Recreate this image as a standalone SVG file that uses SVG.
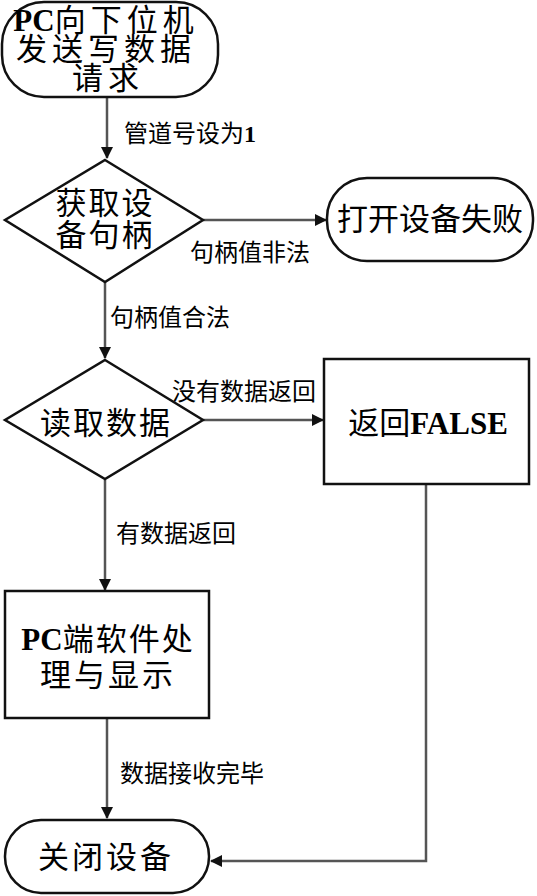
<svg xmlns="http://www.w3.org/2000/svg" width="537" height="896" viewBox="0 0 537 896">
<style>
.shape{fill:#fff;stroke:#111;stroke-width:2.5}
.conn{fill:none;stroke:#555;stroke-width:2.5}
.nt{font-family:"Liberation Serif","Noto Sans CJK SC",serif;font-size:31px;fill:#000;text-anchor:middle}
.b{font-weight:bold}
.el{font-family:"Noto Sans CJK SC","Liberation Sans",sans-serif;font-size:24px;fill:#000}
</style>
<defs>
<marker id="ah" markerWidth="12" markerHeight="12" refX="11" refY="6" orient="auto" markerUnits="userSpaceOnUse">
<path d="M0,0 L12,6 L0,12 Z" fill="#111"/>
</marker>
</defs>
<g id="connectors">
<line class="conn" x1="107" y1="97" x2="107" y2="158" marker-end="url(#ah)"/>
<line class="conn" x1="203" y1="220" x2="326" y2="220" marker-end="url(#ah)"/>
<line class="conn" x1="105" y1="282" x2="105" y2="358" marker-end="url(#ah)"/>
<line class="conn" x1="203" y1="420" x2="323" y2="420" marker-end="url(#ah)"/>
<line class="conn" x1="105" y1="480" x2="105" y2="590" marker-end="url(#ah)"/>
<line class="conn" x1="107" y1="718" x2="107" y2="818" marker-end="url(#ah)"/>
<polyline class="conn" points="426,485 426,861 211,861" marker-end="url(#ah)"/>
<text class="el" x="124" y="142" font-size="26">管道号设为<tspan class="b" font-family="Liberation Serif">1</tspan></text>
<text class="el" x="190" y="261">句柄值非法</text>
<text class="el" x="110" y="326" font-size="27">句柄值合法</text>
<text class="el" x="172" y="400" font-size="22">没有数据返回</text>
<text class="el" x="116" y="542">有数据返回</text>
<text class="el" x="120" y="782" font-size="26">数据接收完毕</text>
</g>
<g id="start">
<rect class="shape" x="2" y="2" width="216" height="95" rx="42" ry="42"/>
<text class="nt" x="106" y="31" font-size="26" letter-spacing="5"><tspan class="b" letter-spacing="0">PC</tspan>向下位机</text>
<text class="nt" x="106" y="60" font-size="26" letter-spacing="5">发送写数据</text>
<text class="nt" x="108" y="89" font-size="26" letter-spacing="5">请求</text>
</g>
<g id="get-handle">
<polygon class="shape" points="105,160 203,220 105,282 5,220"/>
<text class="nt" x="105" y="214" font-size="29" letter-spacing="2">获取设</text>
<text class="nt" x="105" y="246" font-size="29" letter-spacing="2">备句柄</text>
</g>
<g id="open-fail">
<rect class="shape" x="327" y="178" width="206" height="83" rx="40" ry="40"/>
<text class="nt" x="430" y="230" font-size="31">打开设备失败</text>
</g>
<g id="read-data">
<polygon class="shape" points="105,360 203,420 105,479 5,420"/>
<text class="nt" x="106" y="434" font-size="31" letter-spacing="2">读取数据</text>
</g>
<g id="return-false">
<rect class="shape" x="324" y="359" width="205" height="125"/>
<text class="nt" x="428" y="434" font-size="30">返回<tspan class="b">FALSE</tspan></text>
</g>
<g id="pc-process">
<rect class="shape" x="5" y="591" width="204" height="127"/>
<text class="nt" x="108" y="650" letter-spacing="2"><tspan class="b" letter-spacing="0">PC</tspan>端软件处</text>
<text class="nt" x="108" y="686" letter-spacing="3">理与显示</text>
</g>
<g id="close-device">
<rect class="shape" x="5" y="820" width="204" height="73" rx="36" ry="36"/>
<text class="nt" x="106" y="868" font-size="32" letter-spacing="3">关闭设备</text>
</g>
</svg>
